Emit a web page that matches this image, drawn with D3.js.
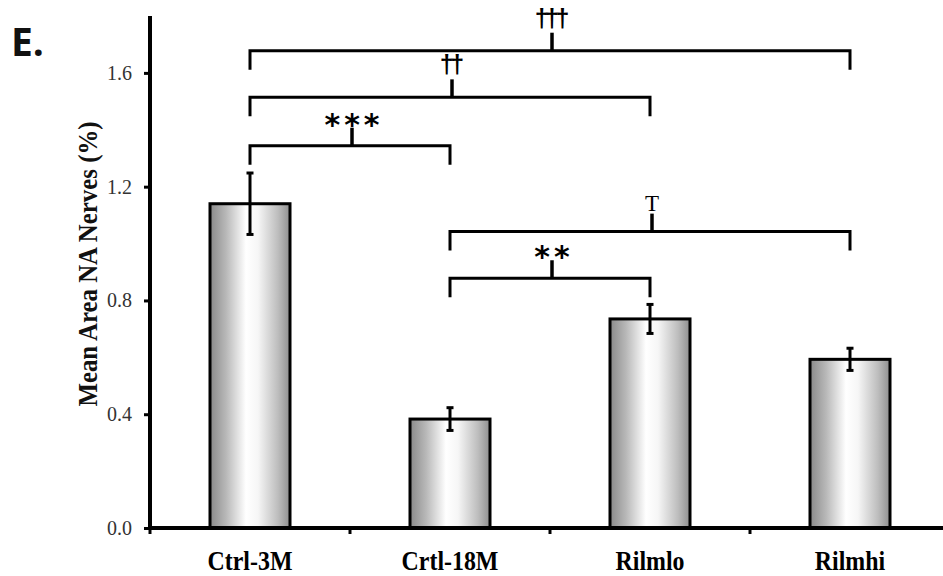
<!DOCTYPE html>
<html>
<head>
<meta charset="utf-8">
<script src="https://cdn.jsdelivr.net/npm/d3@7/dist/d3.min.js"></script>
<style>
  html, body { margin: 0; padding: 0; background: #fff; }
  svg { display: block; }
</style>
</head>
<body>
<svg id="chart" width="943" height="576"></svg>
<script>
// ---- data ----
const categories = ["Ctrl-3M", "Crtl-18M", "Rilmlo", "Rilmhi"];
const means = [1.14, 0.383, 0.735, 0.593];
const errors = [0.108, 0.040, 0.051, 0.039];
const yTicks = [0.0, 0.4, 0.8, 1.2, 1.6];
const bracketFrom = ["Ctrl-3M", "Ctrl-3M", "Ctrl-3M", "Crtl-18M", "Crtl-18M"];
const bracketTo = ["Rilmhi", "Rilmlo", "Crtl-18M", "Rilmhi", "Rilmlo"];
const bracketLevel = [1.678, 1.514, 1.344, 1.042, 0.878];
const bracketLabel = ["\u2020\u2020\u2020", "\u2020\u2020", "***", "T", "**"];
const panelLabel = "E.";
const yTitle = "Mean Area NA Nerves (%)";

// ---- layout ----
const svg = d3.select("#chart");
const x = d3.scaleBand().domain(categories).range([150, 950]).paddingInner(0.6).paddingOuter(0.3);
const y = d3.scaleLinear().domain([0, 1.8]).range([528, 16]);

// gradient
const defs = svg.append("defs");
const grad = defs.append("linearGradient").attr("id", "barGrad").attr("x1", "0").attr("x2", "1").attr("y1", "0").attr("y2", "0");
[[0, "#8a8a8a"], [0.2, "#b8b8b8"], [0.45, "#ffffff"], [0.6, "#f6f6f6"], [0.85, "#bdbdbd"], [1, "#8e8e8e"]]
  .forEach(([o, c]) => grad.append("stop").attr("offset", o).attr("stop-color", c));

// bars
svg.append("g").selectAll("rect").data(categories).join("rect")
  .attr("x", d => x(d))
  .attr("y", (d, i) => y(means[i]))
  .attr("width", x.bandwidth())
  .attr("height", (d, i) => y(0) - y(means[i]))
  .attr("fill", "url(#barGrad)")
  .attr("stroke", "#000")
  .attr("stroke-width", 3);

// error bars
const eb = svg.append("g").attr("stroke", "#000");
categories.forEach((c, i) => {
  const cx = x(c) + x.bandwidth() / 2;
  const top = y(means[i] + errors[i]), bot = y(means[i] - errors[i]);
  eb.append("line").attr("x1", cx).attr("x2", cx).attr("y1", top).attr("y2", bot).attr("stroke-width", 3);
  eb.append("line").attr("x1", cx - 3.5).attr("x2", cx + 3.5).attr("y1", top).attr("y2", top).attr("stroke-width", 3);
  eb.append("line").attr("x1", cx - 3.5).attr("x2", cx + 3.5).attr("y1", bot).attr("y2", bot).attr("stroke-width", 3);
});

// y axis
const yAxis = d3.axisLeft(y).tickValues(yTicks).tickFormat(d3.format(".1f")).tickSize(6).tickPadding(12);
const gy = svg.append("g").attr("transform", "translate(150,0)").call(yAxis);
gy.select(".domain").attr("stroke", "#000").attr("stroke-width", 4).attr("d", `M0,${y(1.8)}V${y(0) + 2}`);
gy.selectAll(".tick line").attr("stroke", "#000").attr("stroke-width", 3);
gy.selectAll(".tick text").attr("font-family", "Liberation Serif, serif").attr("font-size", 20).attr("fill", "#333");

// x axis
const xAxis = d3.axisBottom(x).tickSize(0).tickPadding(0);
const gx = svg.append("g").attr("transform", `translate(0,${y(0)})`).call(xAxis);
gx.select(".domain").attr("stroke", "#000").attr("stroke-width", 4).attr("d", "M148,0H950");
gx.selectAll(".tick text").attr("font-family", "Liberation Serif, serif").attr("font-weight", "bold")
  .attr("font-size", 27).attr("fill", "#000").attr("dy", null).attr("y", 0)
  .attr("transform", "translate(0,42) scale(0.885,1)");
// boundary ticks
const gap = (x.step() - x.bandwidth()) / 2;
gx.append("g").selectAll("line").data(categories).join("line")
  .attr("x1", d => x(d) - gap).attr("x2", d => x(d) - gap)
  .attr("y1", 0).attr("y2", 6).attr("stroke", "#000").attr("stroke-width", 3);

// y title
svg.append("text")
  .attr("transform", `translate(97,${(y(0) + y(1.8)) / 2 - 8}) rotate(-90) scale(0.92,1)`)
  .attr("text-anchor", "middle")
  .attr("font-family", "Liberation Serif, serif").attr("font-weight", "bold").attr("font-size", 27)
  .attr("fill", "#111")
  .text(yTitle);

// panel label
svg.append("text").attr("x", 11).attr("y", 56)
  .attr("font-family", "Open Sans, sans-serif").attr("font-weight", "bold").attr("font-size", 39)
  .attr("fill", "#111").text(panelLabel);

// significance brackets
const bg = svg.append("g").attr("fill", "none").attr("stroke", "#000").attr("stroke-width", 3);
const drop = 19, stem = 18;
bracketLevel.forEach((lv, i) => {
  const x1 = x(bracketFrom[i]) + x.bandwidth() / 2;
  const x2 = x(bracketTo[i]) + x.bandwidth() / 2;
  const yy = y(lv);
  const mx = (x1 + x2) / 2 + 2;
  bg.append("path").attr("d", `M${x1},${yy + drop}V${yy}H${x2}V${yy + drop}`);
  bg.append("line").attr("x1", mx).attr("x2", mx).attr("y1", yy).attr("y2", yy - stem).attr("stroke-width", 3.5);
  const lab = bracketLabel[i];
  const t = svg.append("text").attr("x", mx).attr("text-anchor", "middle").attr("fill", "#000").text(lab);
  if (lab.startsWith("*")) {
    t.attr("font-family", "DejaVu Sans, sans-serif").attr("font-weight", "bold").attr("font-size", 30)
      .attr("letter-spacing", 4).attr("dx", 2).attr("y", yy - stem + 7);
  } else if (lab === "T") {
    t.attr("font-family", "Liberation Serif, serif").attr("font-size", 23).attr("y", yy - stem - 3);
  } else {
    t.attr("font-family", "Liberation Sans, sans-serif").attr("font-weight", "bold").attr("font-size", 25)
      .attr("letter-spacing", -3.5).attr("dx", -1.75).attr("y", yy - stem - 6);
  }
});
</script>
</body>
</html>
